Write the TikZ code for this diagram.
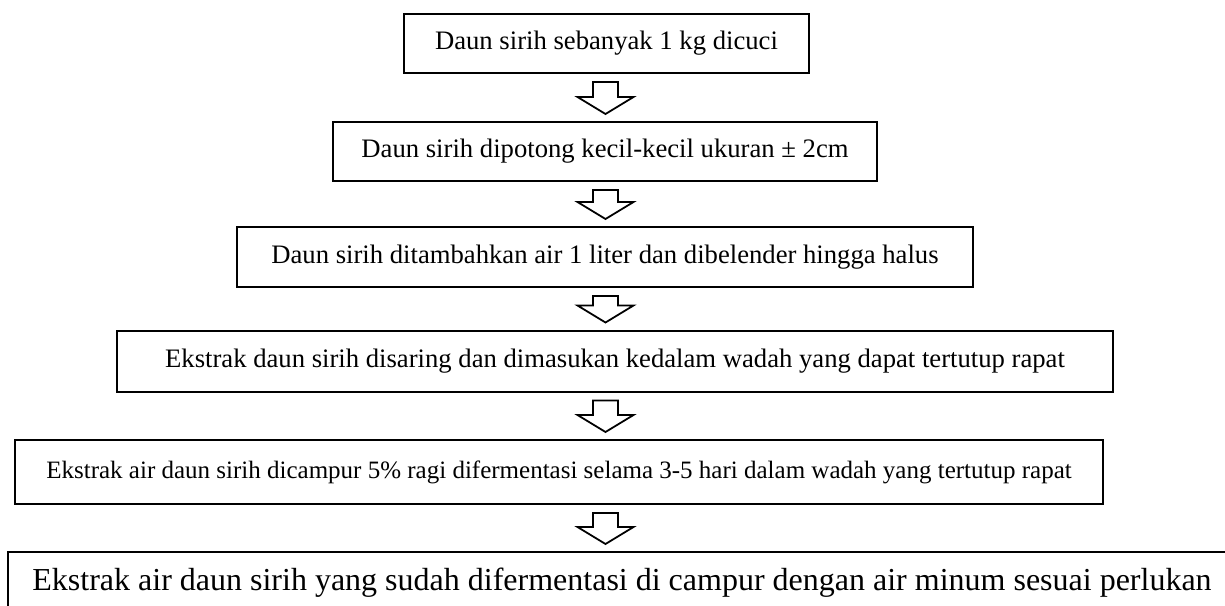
\documentclass[tikz,border=0pt]{standalone}
\usepackage{fontspec}
\setmainfont{Liberation Serif}
\usetikzlibrary{calc}

\tikzset{
  stepbox/.style={draw, line width=0.9pt, inner sep=0pt, align=center,
    font=\fontsize{12pt}{14pt}\selectfont},
  blockarrow/.style={draw, line width=0.8pt, fill=white, line join=miter}
}

% Panah blok dari kotak #1 ke kotak #2
\newcommand{\panah}[2]{%
  \coordinate (t) at ($(axis |- #1.south)+(0,8)$);
  \coordinate (p) at ($(axis |- #2.north)+(0,-7)$);
  \draw[blockarrow] ($(t)+(-12.5,0)$) -- ($(p)+(-12.5,-17)$) -- ($(p)+(-28,-17)$)
    -- (p) -- ($(p)+(28,-17)$) -- ($(p)+(12.5,-17)$) -- ($(t)+(12.5,0)$) -- cycle;
}

\begin{document}
\begin{tikzpicture}[x=0.45pt, y=-0.45pt]
\useasboundingbox (0,0) rectangle (1225,606);
\clip (0,0) rectangle (1225,606);

% Sumbu panah
\coordinate (axis) at (605.5,0);

% Langkah
\node[stepbox, minimum width=182.25pt, minimum height=26.55pt] (cuci) at (606.5,43.5)
  {Daun sirih sebanyak 1 kg dicuci};
\node[stepbox, minimum width=244.8pt, minimum height=26.55pt] (potong) at (605,151.5)
  {Daun sirih dipotong kecil-kecil ukuran ± 2cm};
\node[stepbox, minimum width=331.2pt, minimum height=27pt] (blender) at (605,257)
  {Daun sirih ditambahkan air 1 liter dan dibelender hingga halus};
\node[stepbox, minimum width=448.2pt, minimum height=27.45pt] (saring) at (615,361)
  {Ekstrak daun sirih disaring dan dimasukan kedalam wadah yang dapat tertutup rapat};
\node[stepbox, minimum width=489.6pt, minimum height=28.8pt,
  font=\fontsize{11.25pt}{13pt}\selectfont] (ragi) at (559,472)
  {Ekstrak air daun sirih dicampur 5\% ragi difermentasi selama 3-5 hari dalam wadah yang tertutup rapat};
\node[stepbox, minimum width=552.6pt, minimum height=27.9pt,
  font=\fontsize{14.4pt}{17pt}\selectfont] (minum) at (622,583)
  {Ekstrak air daun sirih yang sudah difermentasi di campur dengan air minum sesuai perlukan};

% Panah
\panah{cuci}{potong}
\panah{potong}{blender}
\panah{blender}{saring}
\panah{saring}{ragi}
\panah{ragi}{minum}
\end{tikzpicture}
\end{document}
